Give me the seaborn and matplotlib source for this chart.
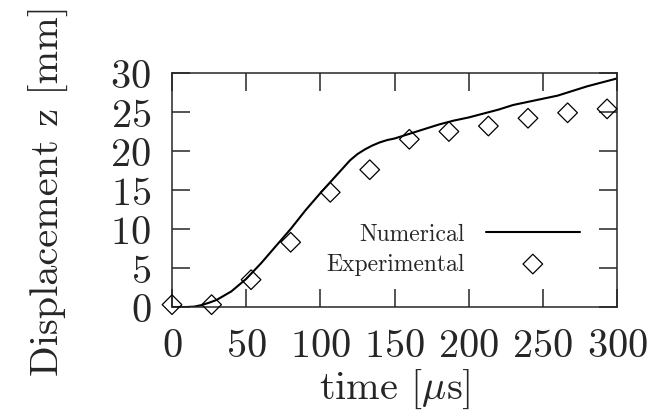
import numpy as np
import pandas as pd
import seaborn as sns
import matplotlib.pyplot as plt

# numerical simulation curve, time in microseconds, displacement in mm
num_time = [0, 10, 15, 20, 25, 30, 40, 50, 60, 70, 80, 90, 100, 110, 120, 125, 130, 135, 140, 145,
            150, 160, 170, 180, 190, 200, 210, 220, 230, 240, 250, 260, 270, 280, 290, 300]
num_disp = [0, 0, 0.05, 0.25, 0.55, 0.9, 2.0, 3.6, 5.6, 7.8, 10.0, 12.4, 14.6, 16.7, 18.8, 19.6, 20.2,
            20.7, 21.1, 21.4, 21.6, 22.2, 22.8, 23.4, 23.9, 24.3, 24.8, 25.3, 25.9, 26.3, 26.7, 27.1,
            27.7, 28.3, 28.8, 29.3]

# experimental measurements
exp_time = [0, 26.7, 53.3, 80.0, 106.7, 133.3, 160.0, 186.7, 213.3, 240.0, 266.7, 293.3]
exp_disp = [0.3, 0.3, 3.5, 8.3, 14.7, 17.6, 21.5, 22.5, 23.2, 24.2, 24.9, 25.4]

x_ticks = [0, 50, 100, 150, 200, 250, 300]
y_ticks = [0, 5, 10, 15, 20, 25, 30]

df_num = pd.DataFrame({"time": num_time, "disp": num_disp})
df_exp = pd.DataFrame({"time": exp_time, "disp": exp_disp})

sns.set_style("ticks")
plt.rcParams.update({
    "font.family": "cmr10",
    "mathtext.fontset": "cm",
    "axes.formatter.use_mathtext": True,
    "axes.unicode_minus": False,
    "axes.linewidth": 1.1,
})

fig = plt.figure(figsize=(6.57, 4.14), dpi=100)
ax = fig.add_axes([172 / 657, 1 - 308 / 414, 445 / 657, 234 / 414])

sns.lineplot(data=df_num, x="time", y="disp", ax=ax, color="black", linewidth=1.5,
             label="Numerical")
sns.scatterplot(data=df_exp, x="time", y="disp", ax=ax, marker="D", s=100,
                facecolor="none", edgecolor="black", linewidth=0.9,
                label="Experimental", clip_on=False, zorder=3)

ax.set_xlim(0, 300)
ax.set_ylim(0, 30)
ax.set_xticks(x_ticks)
ax.set_yticks(y_ticks)
ax.tick_params(direction="in", length=13, width=1.1, top=True, right=True,
               labelsize=29)
ax.tick_params(axis="x", pad=15)
ax.tick_params(axis="y", pad=15)

ax.set_xlabel(r"time [$\mu$s]", fontsize=29, labelpad=2)
ax.set_ylabel("Displacement z [mm]", fontsize=29, labelpad=30)

ax.legend(loc="center right", bbox_to_anchor=(0.917, 0.248), frameon=False,
          markerfirst=False, fontsize=17, handlelength=4.0, handletextpad=0.9,
          labelspacing=0.35, borderpad=0, borderaxespad=0)

fig.savefig("out.png", dpi=100)
